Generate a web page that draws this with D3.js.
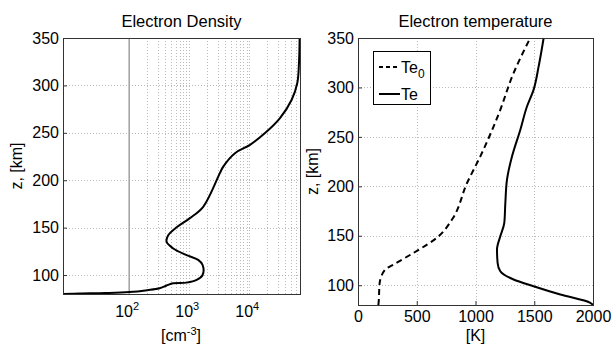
<!DOCTYPE html>
<html>
<head>
<meta charset="utf-8">
<script src="https://cdn.jsdelivr.net/npm/d3@7"></script>
<style>
  body { margin: 0; background: #fff; }
  text { font-family: "Liberation Sans", Arial, sans-serif; fill: #000; }
</style>
</head>
<body>
<svg id="chart" width="612" height="347"></svg>
<script>
// electron density profile (z in km, n in cm^-3)
const dens_z = [80, 80.5, 81, 82, 84, 86, 89, 91.3, 92, 94.8, 100, 110.6, 116, 121, 128, 135, 142, 150.4, 160, 172, 207.5, 214.4, 228.5, 237.3, 249.7, 265.5, 284.9, 302.5, 323.6, 350];
const dens_n = [8, 15, 40, 100, 200, 320, 420, 541, 905, 1330, 1670, 1670, 1410, 905, 541, 420, 447, 617, 1025, 1710, 3240, 3690, 5780, 10280, 18300, 32500, 50900, 63100, 67300, 69000];

// temperature profiles (K)
const te0_z = [80, 82, 102, 115.9, 121, 132.7, 149.5, 166.4, 203.4, 230.3, 274, 314.5, 350];
const te0_t = [173, 175, 184, 232, 303, 473, 686, 800, 928, 1041, 1200, 1324, 1466];
const te_z = [80, 82.2, 90.6, 99, 105.8, 114.1, 122.6, 136, 149.5, 163, 183.3, 206.8, 230.3, 257, 280.7, 297.5, 321, 350];
const te_t = [2000, 1977, 1722, 1494, 1324, 1211, 1188, 1183, 1211, 1245, 1254, 1268, 1311, 1381, 1438, 1494, 1537, 1580];

const z_ticks = [100, 150, 200, 250, 300, 350];
const dens_ticks = [100, 1000, 10000];
const t_ticks = [0, 500, 1000, 1500, 2000];
const legend_items = [
  { label: "Te", sub: "0", dash: "4,3" },
  { label: "Te", sub: "", dash: null },
];

const svg = d3.select("#chart");
const grid_col = "#a8a8a8";
const axis_col = "#333";
const font_size = 16;

// shared styling for d3 axis groups
function styleAxis(g) {
  g.select(".domain").remove();
  g.selectAll("line").attr("stroke", axis_col);
  g.selectAll("text").attr("font-size", font_size).attr("font-family", null);
}

/* LEFT PANEL: electron density */
const left = { x0: 63, x1: 300, y0: 38, y1: 294 };
const x_dens = d3.scaleLog().domain([7.9, 70000]).range([left.x0, left.x1]);
const y_dens = d3.scaleLinear().domain([80, 350]).range([left.y1, left.y0]);

const gl = svg.append("g");

// minor + major vertical grid (dotted), none below 10^2
const minor_vals = [];
for (let d = 100; d < 100000; d *= 10) {
  for (let m = 1; m < 10; m++) {
    const v = d * m;
    if (v > 100 && v < 70000) minor_vals.push(v);
  }
}
gl.append("g")
  .selectAll("line")
  .data(minor_vals)
  .join("line")
  .attr("x1", (d) => Math.round(x_dens(d)) + 0.5)
  .attr("x2", (d) => Math.round(x_dens(d)) + 0.5)
  .attr("y1", left.y0)
  .attr("y2", left.y1)
  .attr("stroke", grid_col)
  .attr("stroke-width", 0.8)
  .attr("stroke-dasharray", "1,2");

// horizontal grid
gl.append("g")
  .selectAll("line")
  .data(z_ticks.filter((d) => d < 350))
  .join("line")
  .attr("x1", left.x0)
  .attr("x2", left.x1)
  .attr("y1", (d) => Math.round(y_dens(d)) + 0.5)
  .attr("y2", (d) => Math.round(y_dens(d)) + 0.5)
  .attr("stroke", grid_col)
  .attr("stroke-width", 0.8)
  .attr("stroke-dasharray", "1,2");

// solid grey reference line at 10^2
gl.append("line")
  .attr("x1", x_dens(100))
  .attr("x2", x_dens(100))
  .attr("y1", left.y0)
  .attr("y2", left.y1)
  .attr("stroke", "#a0a0a0")
  .attr("stroke-width", 1.5);

// density curve
const dens_data = dens_z.map((z, i) => ({ z: z, n: dens_n[i] }));
gl.append("path")
  .datum(dens_data)
  .attr("fill", "none")
  .attr("stroke", "#000")
  .attr("stroke-width", 2)
  .attr("stroke-linejoin", "round")
  .attr("d", d3.line().x((d) => x_dens(d.n)).y((d) => y_dens(d.z)).curve(d3.curveCatmullRom.alpha(0.5)));

// y axis
gl.append("g")
  .attr("transform", "translate(" + left.x0 + ",0)")
  .call(d3.axisLeft(y_dens).tickValues(z_ticks).tickSize(-4).tickPadding(4))
  .call(styleAxis);

// log tick labels 10^k
const dlab = gl.append("g")
  .selectAll("text")
  .data(dens_ticks)
  .join("text")
  .attr("x", (d) => x_dens(d) - 2)
  .attr("y", 317)
  .attr("text-anchor", "middle")
  .attr("font-size", font_size);
dlab.append("tspan").text("10");
dlab.append("tspan")
  .attr("dy", -7)
  .attr("font-size", 11)
  .text((d) => Math.round(Math.log10(d)));

// box
gl.append("rect")
  .attr("x", left.x0 + 0.5)
  .attr("y", left.y0 + 0.5)
  .attr("width", left.x1 - left.x0)
  .attr("height", left.y1 - left.y0)
  .attr("fill", "none")
  .attr("stroke", axis_col)
  .attr("stroke-width", 1);

gl.append("text")
  .attr("x", (left.x0 + left.x1) / 2)
  .attr("y", 27)
  .attr("text-anchor", "middle")
  .attr("font-size", 16.5)
  .text("Electron Density");

const xl = gl.append("text")
  .attr("x", 181)
  .attr("y", 341)
  .attr("text-anchor", "middle")
  .attr("font-size", font_size);
xl.append("tspan").text("[cm");
xl.append("tspan").attr("dy", -6).attr("font-size", 11).text("-3");
xl.append("tspan").attr("dy", 6).text("]");

gl.append("text")
  .attr("transform", "translate(22," + (left.y0 + left.y1) / 2 + ") rotate(-90)")
  .attr("text-anchor", "middle")
  .attr("font-size", font_size)
  .text("z, [km]");

/* RIGHT PANEL: electron temperature */
const right = { x0: 358, x1: 593, y0: 38, y1: 305 };
const x_t = d3.scaleLinear().domain([0, 2000]).range([right.x0, right.x1]);
const y_t = d3.scaleLinear().domain([80, 350]).range([right.y1, right.y0]);

const gr = svg.append("g");

gr.append("g")
  .selectAll("line")
  .data(t_ticks.filter((d) => d > 0 && d < 2000))
  .join("line")
  .attr("x1", (d) => Math.round(x_t(d)) + 0.5)
  .attr("x2", (d) => Math.round(x_t(d)) + 0.5)
  .attr("y1", right.y0)
  .attr("y2", right.y1)
  .attr("stroke", grid_col)
  .attr("stroke-width", 0.8)
  .attr("stroke-dasharray", "1,2");

gr.append("g")
  .selectAll("line")
  .data(z_ticks.filter((d) => d < 350))
  .join("line")
  .attr("x1", right.x0)
  .attr("x2", right.x1)
  .attr("y1", (d) => Math.round(y_t(d)) + 0.5)
  .attr("y2", (d) => Math.round(y_t(d)) + 0.5)
  .attr("stroke", grid_col)
  .attr("stroke-width", 0.8)
  .attr("stroke-dasharray", "1,2");

const te0_data = te0_z.map((z, i) => ({ z: z, t: te0_t[i] }));
const te_data = te_z.map((z, i) => ({ z: z, t: te_t[i] }));
const t_line = d3.line().x((d) => x_t(d.t)).y((d) => y_t(d.z)).curve(d3.curveMonotoneY);

gr.append("path")
  .datum(te0_data)
  .attr("fill", "none")
  .attr("stroke", "#000")
  .attr("stroke-width", 2)
  .attr("stroke-dasharray", "6,4")
  .attr("d", t_line);

gr.append("path")
  .datum(te_data)
  .attr("fill", "none")
  .attr("stroke", "#000")
  .attr("stroke-width", 2)
  .attr("d", t_line);

gr.append("g")
  .attr("transform", "translate(0," + right.y1 + ")")
  .call(d3.axisBottom(x_t).tickValues(t_ticks).tickSize(-4).tickPadding(6).tickFormat(d3.format("d")))
  .call(styleAxis);
gr.append("g")
  .attr("transform", "translate(" + right.x0 + ",0)")
  .call(d3.axisLeft(y_t).tickValues(z_ticks).tickSize(-4).tickPadding(4))
  .call(styleAxis);

gr.append("rect")
  .attr("x", right.x0 + 0.5)
  .attr("y", right.y0 + 0.5)
  .attr("width", right.x1 - right.x0)
  .attr("height", right.y1 - right.y0)
  .attr("fill", "none")
  .attr("stroke", axis_col)
  .attr("stroke-width", 1);

gr.append("text")
  .attr("x", (right.x0 + right.x1) / 2)
  .attr("y", 27)
  .attr("text-anchor", "middle")
  .attr("font-size", 16.5)
  .text("Electron temperature");

gr.append("text")
  .attr("x", (right.x0 + right.x1) / 2)
  .attr("y", 341)
  .attr("text-anchor", "middle")
  .attr("font-size", font_size)
  .text("[K]");

gr.append("text")
  .attr("transform", "translate(318," + (right.y0 + right.y1) / 2 + ") rotate(-90)")
  .attr("text-anchor", "middle")
  .attr("font-size", font_size)
  .text("z, [km]");

// legend
const leg = gr.append("g").attr("transform", "translate(373,51)");
leg.append("rect")
  .attr("x", 0.5)
  .attr("y", 0.5)
  .attr("width", 57)
  .attr("height", 53)
  .attr("fill", "#fff")
  .attr("stroke", "#000")
  .attr("stroke-width", 1);
const leg_rows = leg.selectAll("g.row")
  .data(legend_items)
  .join("g")
  .attr("class", "row")
  .attr("transform", (d, i) => "translate(0," + (16 + i * 27) + ")");
leg_rows.append("line")
  .attr("x1", 6)
  .attr("x2", 27)
  .attr("y1", 0)
  .attr("y2", 0)
  .attr("stroke", "#000")
  .attr("stroke-width", 2)
  .attr("stroke-dasharray", (d) => d.dash);
const leg_txt = leg_rows.append("text")
  .attr("x", 28)
  .attr("y", 6)
  .attr("font-size", font_size);
leg_txt.append("tspan").text((d) => d.label);
leg_txt.append("tspan").attr("dy", 5).attr("font-size", 12).text((d) => d.sub);
</script>
</body>
</html>
